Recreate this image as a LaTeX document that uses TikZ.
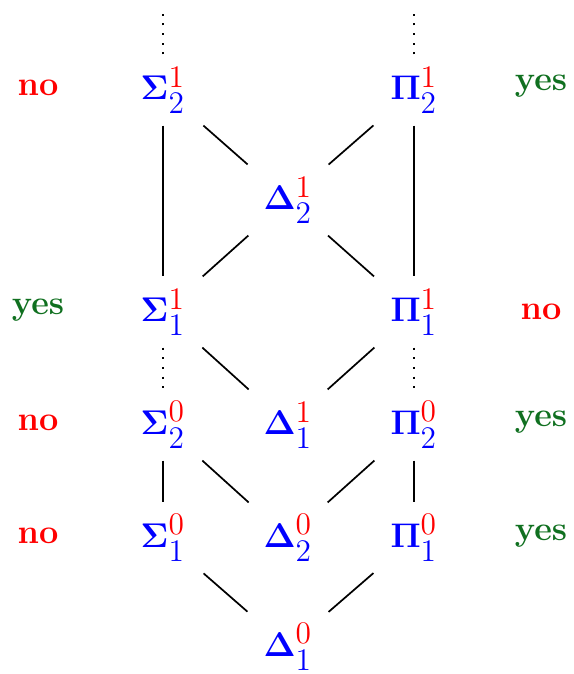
\documentclass[tikz,border=0pt]{standalone}
\usepackage{amsmath,bm}
\usepackage{xcolor}
\definecolor{yesgreen}{RGB}{16,112,32}
\newcommand{\scr}[1]{\mbox{\fontsize{11}{12}\selectfont #1}}
\newcommand{\hier}[3]{$\bm{#1}^{\scr{\textcolor{red}{#2}}}_{\scr{#3}}$}

\begin{document}
\begin{tikzpicture}[x=0.35pt, y=-0.35pt,
  level/.style={inner sep=0pt, minimum width=28pt, minimum height=24.5pt, text=blue, font=\fontsize{13}{15}\selectfont},
  answeryes/.style={font=\large\bfseries, text=yesgreen},
  answerno/.style={font=\large\bfseries, text=red},
  line/.style={line width=0.6pt},
  dots/.style={line width=0.7pt, dash pattern=on 0.7pt off 2.7pt}
]
  \useasboundingbox (0,0) rectangle (574,674);

  \node[level] (sigma12) at (163,90) {\hier{\Sigma}{1}{2}};
  \node[level] (pi12) at (414,90) {\hier{\Pi}{1}{2}};
  \node[level] (delta12) at (288,200) {\hier{\Delta}{1}{2}};
  \node[level] (sigma11) at (163,312) {\hier{\Sigma}{1}{1}};
  \node[level] (pi11) at (414,312) {\hier{\Pi}{1}{1}};
  \node[level] (sigma02) at (163,425) {\hier{\Sigma}{0}{2}};
  \node[level] (delta11) at (288,425) {\hier{\Delta}{1}{1}};
  \node[level] (pi02) at (414,425) {\hier{\Pi}{0}{2}};
  \node[level] (sigma01) at (163,538) {\hier{\Sigma}{0}{1}};
  \node[level] (delta02) at (288,538) {\hier{\Delta}{0}{2}};
  \node[level] (pi01) at (414,538) {\hier{\Pi}{0}{1}};
  \node[level] (delta01) at (288,647) {\hier{\Delta}{0}{1}};

  \coordinate (sigmatop) at (163,12);
  \coordinate (pitop) at (414,12);

  \node[answerno] (ansl12) at (38,88) {no};
  \node[answeryes] (ansr12) at (541,86) {yes};
  \node[answeryes] (ansl11) at (38,310) {yes};
  \node[answerno] (ansr11) at (541,312) {no};
  \node[answerno] (ansl02) at (38,423) {no};
  \node[answeryes] (ansr02) at (541,422) {yes};
  \node[answerno] (ansl01) at (38,536) {no};
  \node[answeryes] (ansr01) at (541,536) {yes};

  \draw[dots] (sigma12) -- (sigmatop);
  \draw[dots] (pi12) -- (pitop);
  \draw[line] (sigma12) -- (sigma11);
  \draw[line] (pi12) -- (pi11);
  \draw[line] (sigma12) -- (delta12);
  \draw[line] (pi12) -- (delta12);
  \draw[line] (delta12) -- (sigma11);
  \draw[line] (delta12) -- (pi11);
  \draw[dots] (sigma11) -- (sigma02);
  \draw[dots] (pi11) -- (pi02);
  \draw[line] (sigma11) -- (delta11);
  \draw[line] (pi11) -- (delta11);
  \draw[line] (sigma02) -- (sigma01);
  \draw[line] (pi02) -- (pi01);
  \draw[line] (sigma02) -- (delta02);
  \draw[line] (pi02) -- (delta02);
  \draw[line] (sigma01) -- (delta01);
  \draw[line] (pi01) -- (delta01);
\end{tikzpicture}
\end{document}
